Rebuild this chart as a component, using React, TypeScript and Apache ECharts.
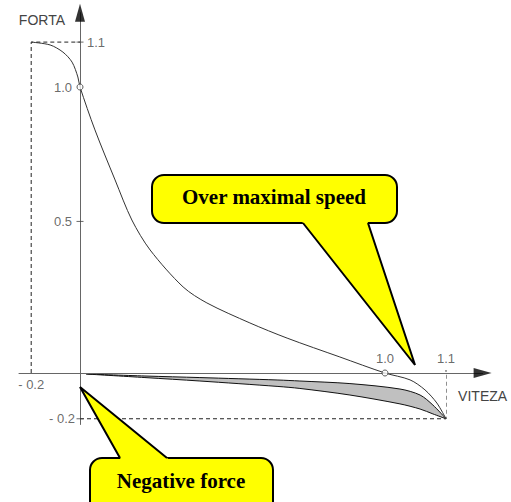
import React, { useEffect, useRef } from "react";
import * as echarts from "echarts";

// Main force/speed curve (schematic units)
const mainCurveX = [-0.16, -0.098, -0.056, -0.026, -0.007, 0, 0.049, 0.115, 0.17, 0.23, 0.338, 0.416, 0.557, 0.679, 0.852, 1.0, 1.082, 1.131, 1.17, 1.2];
const mainCurveY = [1.157, 1.147, 1.122, 1.087, 1.035, 1.0, 0.85, 0.675, 0.535, 0.43, 0.301, 0.245, 0.175, 0.122, 0.056, 0, -0.024, -0.059, -0.105, -0.16];

// Negative force band
const bandX = [0.02, 0.213, 0.393, 0.649, 0.721, 0.885, 1.049, 1.115, 1.157, 1.2];
const bandUpper = [-0.0035, -0.0105, -0.016, -0.0245, -0.028, -0.037, -0.056, -0.077, -0.112, -0.16];
const bandLower = [-0.0035, -0.016, -0.028, -0.047, -0.054, -0.077, -0.108, -0.126, -0.143, -0.16];

// Tick positions and their texts
const yTickValues = [1.157, 1.0, 0.53, -0.16];
const yTickTexts = ["1.1", "1.0", "0.5", "- 0.2"];
const xTickValues = [-0.16, 1.0, 1.2];
const xTickTexts = ["- 0.2", "1.0", "1.1"];

// Marked points (hollow circles)
const markedPoints = [
  [0, 1.0],
  [1.0, 0],
];

const X_MIN = -0.2;
const X_MAX = 1.32;
const Y_MIN = -0.18;
const Y_MAX = 1.26;

const callouts = [
  { text: "Over maximal speed", box: [152, 175, 245, 48], tip: [415, 365], baseX: [303, 368], baseY: 223, textPos: [274, 197] },
  { text: "Negative force", box: [90, 458, 183, 70], tip: [80, 387], baseX: [120, 167], baseY: 458, textPos: [181, 481] },
];

function buildCallout(c: any) {
  const [bx, by, bw, bh] = c.box;
  const tip = c.tip;
  const bases = c.baseX.map((x: number) => [x, c.baseY]);
  const ext = bases.map((b: number[]) => {
    const dx = b[0] - tip[0];
    const dy = b[1] - tip[1];
    const len = Math.sqrt(dx * dx + dy * dy);
    return [b[0] + (dx / len) * 4, b[1] + (dy / len) * 4];
  });
  return [
    {
      type: "rect",
      shape: { x: bx, y: by, width: bw, height: bh, r: 12 },
      style: { fill: "#ffff00", stroke: "#000", lineWidth: 2 },
      z: 100,
    },
    {
      type: "polygon",
      shape: { points: [tip, ext[0], ext[1]] },
      style: { fill: "#ffff00" },
      z: 101,
    },
    {
      type: "polyline",
      shape: { points: [bases[0], tip, bases[1]] },
      style: { stroke: "#000", lineWidth: 2, fill: null, lineJoin: "miter" },
      z: 102,
    },
    {
      type: "text",
      x: c.textPos[0],
      y: c.textPos[1],
      style: {
        text: c.text,
        font: 'bold 21px "Liberation Serif", "Times New Roman", serif',
        fill: "#000",
        align: "center",
        verticalAlign: "middle",
      },
      z: 103,
    },
  ];
}

export default function App() {
  const ref = useRef<HTMLDivElement>(null);

  useEffect(() => {
    if (!ref.current) return;
    const chart = echarts.init(ref.current, null, { renderer: "svg" });

    const labelFont = { fontFamily: '"Liberation Sans", Arial, sans-serif', fontSize: 13, color: "#444" };

    const labelData: any[] = [];
    yTickValues.forEach((v, i) => {
      const right = i === 0;
      labelData.push({
        value: [0, v],
        name: yTickTexts[i],
        label: { position: right ? "right" : "left", distance: right ? 7 : i === 3 ? 5 : 8 },
      });
    });
    xTickValues.forEach((v, i) => {
      const below = i === 0;
      labelData.push({
        value: [v, 0],
        name: xTickTexts[i],
        label: { position: below ? "bottom" : "top", distance: below ? 5 : 8 },
      });
    });

    const dashTL = [
      [xTickValues[0], 0],
      [xTickValues[0], yTickValues[0]],
      [0, yTickValues[0]],
    ];
    const dashBR = [
      [0, yTickValues[3]],
      [xTickValues[2], yTickValues[3]],
      [xTickValues[2], 0.01],
    ];

    const option: any = {
      animation: false,
      backgroundColor: "#fff",
      grid: { left: 19, right: 28.4, top: 12.64, bottom: 77.52, containLabel: false },
      xAxis: {
        type: "value",
        min: X_MIN,
        max: X_MAX,
        z: 10,
        name: "VITEZA",
        nameLocation: "end",
        nameGap: 0,
        nameTextStyle: {
          fontFamily: '"Liberation Sans", Arial, sans-serif',
          fontSize: 14,
          color: "#444",
          align: "center",
          verticalAlign: "top",
          padding: [16, 0, 0, 0],
        },
        axisLine: { onZero: true, lineStyle: { color: "#666", width: 1 } },
        axisTick: { show: false },
        axisLabel: { show: false },
        splitLine: { show: false },
      },
      yAxis: {
        type: "value",
        min: Y_MIN,
        max: Y_MAX,
        name: "FORTA",
        nameLocation: "end",
        nameGap: 0,
        nameTextStyle: {
          fontFamily: '"Liberation Sans", Arial, sans-serif',
          fontSize: 14,
          color: "#444",
          align: "right",
          verticalAlign: "top",
          padding: [0, 15, 0, 0],
        },
        axisLine: { onZero: true, lineStyle: { color: "#666", width: 1 } },
        axisTick: { show: false },
        axisLabel: { show: false },
        splitLine: { show: false },
      },
      series: [
        {
          type: "line",
          name: "dashTL",
          data: dashTL,
          symbol: "none",
          lineStyle: { color: "#222", width: 1, type: [4, 3] },
          z: 2,
        },
        {
          type: "line",
          name: "dashBR",
          data: dashBR,
          symbol: "none",
          lineStyle: { color: "#222", width: 1, type: [4, 3] },
          z: 2,
        },
        {
          type: "line",
          name: "bandLower",
          data: bandX.map((x, i) => [x, bandLower[i]]),
          symbol: "none",
          smooth: 0.3,
          lineStyle: { color: "#111", width: 1 },
          areaStyle: { color: "#c0c0c0", opacity: 1, origin: "auto" },
          z: 3,
        },
        {
          type: "line",
          name: "bandUpper",
          data: bandX.map((x, i) => [x, bandUpper[i]]),
          symbol: "none",
          smooth: 0.3,
          lineStyle: { color: "#111", width: 1 },
          areaStyle: { color: "#ffffff", opacity: 1, origin: "auto" },
          z: 4,
        },
        {
          type: "line",
          name: "force",
          data: mainCurveX.map((x, i) => [x, mainCurveY[i]]),
          symbol: "none",
          smooth: 0.3,
          lineStyle: { color: "#333", width: 1 },
          z: 5,
        },
        {
          type: "scatter",
          name: "ticks",
          data: yTickValues.filter((_, i) => i !== 1).map((v) => [0, v]),
          symbol: "rect",
          symbolSize: [7, 1],
          itemStyle: { color: "#444" },
          z: 5,
        },
        {
          type: "scatter",
          name: "points",
          data: markedPoints,
          symbol: "circle",
          symbolSize: 6,
          itemStyle: { color: "#fff", borderColor: "#333", borderWidth: 1 },
          z: 12,
        },
        {
          type: "scatter",
          name: "arrows",
          data: [
            { value: [X_MAX, 0], symbolRotate: -90 },
            { value: [0, Y_MAX], symbolRotate: 0 },
          ],
          symbol: "triangle",
          symbolSize: [10, 18],
          itemStyle: { color: "#000" },
          z: 12,
        },
        {
          type: "scatter",
          name: "labels",
          data: labelData,
          symbolSize: 0,
          itemStyle: { color: "transparent" },
          label: {
            show: true,
            formatter: (p: any) => p.name,
            ...labelFont,
          },
          z: 12,
        },
      ],
      graphic: callouts.flatMap((c) => buildCallout(c)),
    };

    chart.setOption(option);
    return () => chart.dispose();
  }, []);

  return (
    <div
      ref={ref}
      style={{ position: "absolute", left: 0, top: 0, width: 511, height: 502, background: "#fff" }}
    />
  );
}
